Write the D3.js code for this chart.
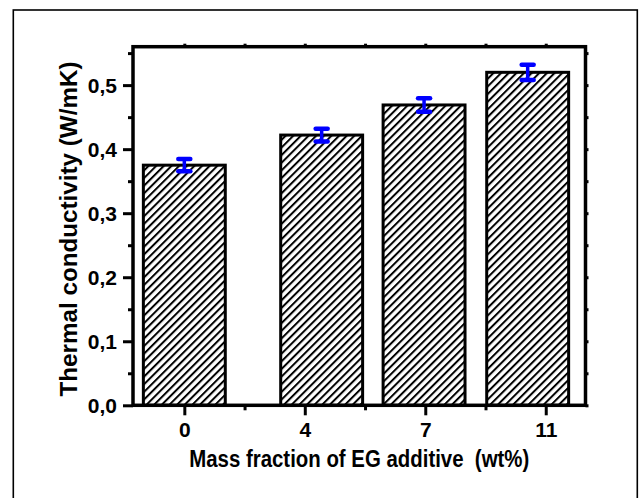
<!DOCTYPE html>
<html>
<head>
<meta charset="utf-8">
<script src="https://cdn.jsdelivr.net/npm/d3@7/dist/d3.min.js"></script>
<style>
  html, body { margin: 0; padding: 0; background: #fff; }
  svg { display: block; }
  text { font-family: "Liberation Sans", Arial, sans-serif; font-weight: bold; fill: #000; }
</style>
</head>
<body>
<div id="chart"></div>
<script>
// Data
const categories = ['0', '4', '7', '11'];        // EG mass fraction (wt%)
const tickPos = [0, 1, 2, 3];                     // where the category ticks sit
const barPos = [0, 1.14, 1.99, 2.85];             // bar centres (axis units, as drawn)
const conductivity = [0.375, 0.422, 0.469, 0.520];
const errors = [0.0095, 0.010, 0.0105, 0.012];
const yMajor = [0, 0.1, 0.2, 0.3, 0.4, 0.5];
const yMinor = [0.05, 0.15, 0.25, 0.35, 0.45, 0.55];
const xMinor = [0.5, 1.5, 2.5];

const W = 640, H = 498;
const plot = { left: 133, right: 585.5, top: 46.7, bottom: 405.3 };

const svg = d3.select('#chart').append('svg')
  .attr('width', W)
  .attr('height', H);

// Hatch pattern "////"
const defs = svg.append('defs');
defs.append('pattern')
  .attr('id', 'hatch')
  .attr('patternUnits', 'userSpaceOnUse')
  .attr('width', 5.4)
  .attr('height', 10)
  .attr('patternTransform', 'rotate(45)')
  .append('rect')
  .attr('x', 0).attr('y', 0)
  .attr('width', 2).attr('height', 10)
  .attr('fill', '#000');

// Outer frame
svg.append('rect')
  .attr('x', 13.3).attr('y', 10)
  .attr('width', 624).attr('height', 500)
  .attr('fill', 'none')
  .attr('stroke', '#000')
  .attr('stroke-width', 1.6);

// Scales
const x = d3.scaleLinear().domain([-0.426, 3.33]).range([plot.left, plot.right]);
const y = d3.scaleLinear().domain([0, 0.56]).range([plot.bottom, plot.top]);

const comma = v => d3.format('.1f')(v).replace('.', ',');
const barW = x(0.68) - x(0);

// Bars
svg.append('g').attr('class', 'bars')
  .selectAll('rect')
  .data(conductivity)
  .join('rect')
  .attr('x', (d, i) => x(barPos[i]) - barW / 2)
  .attr('y', d => y(d))
  .attr('width', barW)
  .attr('height', d => y(0) - y(d))
  .attr('fill', 'url(#hatch)')
  .attr('stroke', '#000')
  .attr('stroke-width', 3);

// Error bars
const eb = svg.append('g').attr('class', 'errors')
  .selectAll('g')
  .data(conductivity)
  .join('g')
  .attr('stroke', '#0000ff')
  .attr('stroke-linecap', 'round');

eb.append('line')
  .attr('x1', (d, i) => x(barPos[i]))
  .attr('x2', (d, i) => x(barPos[i]))
  .attr('y1', (d, i) => y(d + errors[i]))
  .attr('y2', (d, i) => y(d - errors[i]))
  .attr('stroke-width', 3.5);

['+', '-'].forEach(sign => {
  eb.append('line')
    .attr('x1', (d, i) => x(barPos[i]) - 6)
    .attr('x2', (d, i) => x(barPos[i]) + 6)
    .attr('y1', (d, i) => y(sign === '+' ? d + errors[i] : d - errors[i]))
    .attr('y2', (d, i) => y(sign === '+' ? d + errors[i] : d - errors[i]))
    .attr('stroke-width', 4.5);
});

// Axes
const axisStyle = g => {
  g.select('.domain').remove();
  g.selectAll('.tick line').attr('stroke', '#000').attr('stroke-width', 3);
  g.selectAll('.tick text').style('font-size', '21px').attr('fill', '#000');
};

svg.append('g')
  .attr('transform', `translate(${plot.left},0)`)
  .call(d3.axisLeft(y).tickValues(yMajor).tickSize(10).tickPadding(6).tickFormat(comma))
  .call(axisStyle)
  .selectAll('.tick text').attr('dy', '0.36em');

svg.append('g')
  .attr('transform', `translate(${plot.left},0)`)
  .call(d3.axisLeft(y).tickValues(yMinor).tickSize(5).tickFormat(''))
  .call(axisStyle);

svg.append('g')
  .attr('transform', `translate(0,${plot.bottom})`)
  .call(d3.axisBottom(x).tickValues(tickPos).tickSize(10).tickPadding(7)
    .tickFormat((d, i) => categories[i]))
  .call(axisStyle);

svg.append('g')
  .attr('transform', `translate(0,${plot.bottom})`)
  .call(d3.axisBottom(x).tickValues(xMinor).tickSize(5).tickFormat(''))
  .call(axisStyle);

// Small outward ticks on the top and right edges
svg.append('g')
  .attr('transform', `translate(0,${plot.top})`)
  .call(d3.axisTop(x).tickValues(tickPos.concat(xMinor)).tickSize(3).tickFormat(''))
  .call(axisStyle);

svg.append('g')
  .attr('transform', `translate(${plot.right},0)`)
  .call(d3.axisRight(y).tickValues(yMajor.concat(yMinor)).tickSize(3).tickFormat(''))
  .call(axisStyle);

// Plot box
svg.append('rect')
  .attr('x', plot.left).attr('y', plot.top)
  .attr('width', plot.right - plot.left)
  .attr('height', plot.bottom - plot.top)
  .attr('fill', 'none')
  .attr('stroke', '#000')
  .attr('stroke-width', 3.5);

// Axis titles
svg.append('text')
  .attr('x', (plot.left + plot.right) / 2)
  .attr('y', 467)
  .attr('text-anchor', 'middle')
  .attr('textLength', 340)
  .attr('lengthAdjust', 'spacingAndGlyphs')
  .style('font-size', '23px')
  .style('white-space', 'pre')
  .text('Mass fraction of EG additive  (wt%)');

svg.append('text')
  .attr('transform', `translate(77,${(plot.top + plot.bottom) / 2 + 3}) rotate(-90)`)
  .attr('text-anchor', 'middle')
  .attr('textLength', 335)
  .attr('lengthAdjust', 'spacingAndGlyphs')
  .style('font-size', '23px')
  .text('Thermal conductivity (W/mK)');
</script>
</body>
</html>
